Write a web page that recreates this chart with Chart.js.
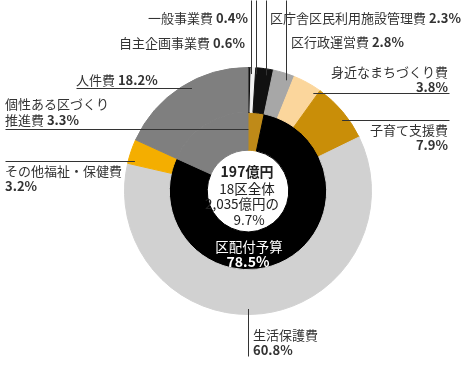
<!DOCTYPE html>
<html>
<head>
<meta charset="utf-8">
<script src="https://cdn.jsdelivr.net/npm/chart.js@4"></script>
<style>
  html, body { margin: 0; padding: 0; background: #fff; }
  #budgetChart { display: block; }
</style>
</head>
<body>
<canvas id="budgetChart" width="465" height="369"></canvas>
<script>
// outer ring: spending items
var outerLabels = ["一般事業費", "自主企画事業費", "区庁舎区民利用施設管理費", "区行政運営費",
  "身近なまちづくり費", "子育て支援費", "生活保護費", "その他福祉・保健費", "人件費"];
var outerValues = [0.4, 0.6, 2.3, 2.8, 3.8, 7.9, 60.8, 3.2, 18.2];
var outerColors = ["#111111", "#f2f2f2", "#111111", "#a7a7a7", "#fbd69c", "#c98e08", "#d1d1d1", "#f4ae00", "#7f7f7f"];

// inner ring: budget sources
var innerLabels = ["個性ある区づくり推進費", "区配付予算", "人件費"];
var innerValues = [3.3, 78.5, 18.2];
var innerColors = ["#bf8a18", "#000000", "#7f7f7f"];

var centerText = ["197億円", "18区全体", "2,035億円の", "9.7%"];

var FONT = "'Noto Sans CJK JP', 'Noto Sans', sans-serif";
var TEXT = "#333333";

// where each label and its leader line sit
var labelLayout = [
  {ring: 0, i: 0, lines: ["一般事業費"], inline: true, align: "right", x: 248, y: 18, lead: "v", at: 251, from: 0},
  {ring: 0, i: 1, lines: ["自主企画事業費"], inline: true, align: "right", x: 245, y: 43, lead: "v", at: 256, from: 0},
  {ring: 0, i: 2, lines: ["区庁舎区民利用施設管理費"], inline: true, align: "left", x: 270, y: 18, lead: "v", at: 266, from: 0},
  {ring: 0, i: 3, lines: ["区行政運営費"], inline: true, align: "left", x: 291, y: 42, lead: "v", at: 286, from: 0},
  {ring: 0, i: 4, lines: ["身近なまちづくり費"], align: "right", x: 448, y: 72, lead: "h", at: 93, from: 449},
  {ring: 0, i: 5, lines: ["子育て支援費"], align: "right", x: 448, y: 130, lead: "h", at: 120, from: 449},
  {ring: 0, i: 6, lines: ["生活保護費"], align: "left", x: 253, y: 335, lead: "v", at: 248, from: 356},
  {ring: 0, i: 7, lines: ["その他福祉・保健費"], align: "left", x: 5, y: 171, lead: "h", at: 161, from: 5},
  {ring: 0, i: 8, lines: ["人件費"], inline: true, align: "left", x: 76, y: 80, lead: "h", at: 88, from: 76},
  {ring: 1, i: 0, lines: ["個性ある区づくり", "推進費"], inline: true, align: "left", x: 5, y: 104, lead: "h", at: 129, from: 5}
];

function pct(v) { return v.toFixed(1) + "%"; }

function drawMixed(ctx, name, value, align, x, y) {
  ctx.font = "13px " + FONT;
  var nameW = ctx.measureText(name).width;
  ctx.font = "bold 13px " + FONT;
  var valW = ctx.measureText(value).width;
  var start = align === "right" ? x - nameW - valW : x;
  ctx.textAlign = "left";
  ctx.font = "13px " + FONT;
  ctx.fillText(name, start, y);
  ctx.font = "bold 13px " + FONT;
  ctx.fillText(value, start + nameW, y);
}

var labelPlugin = {
  id: "labels",
  afterDraw: function(chart) {
    var ctx = chart.ctx;
    ctx.save();
    ctx.textBaseline = "middle";
    labelLayout.forEach(function(l) {
      var arc = chart.getDatasetMeta(l.ring).data[l.i];
      var cx = arc.x, cy = arc.y;
      var r = l.ring === 0 ? arc.outerRadius - 6 : (arc.innerRadius + arc.outerRadius) / 2;
      var x1, y1, x2, y2;
      if (l.lead === "v") {
        var dx = l.at - cx;
        var dy = Math.sqrt(Math.max(r * r - dx * dx, 0));
        x1 = x2 = l.at; y1 = l.from;
        y2 = l.from < cy ? cy - dy : cy + dy;
      } else {
        var ddy = l.at - cy;
        var ddx = Math.sqrt(Math.max(r * r - ddy * ddy, 0));
        y1 = y2 = l.at; x1 = l.from;
        x2 = l.from < cx ? cx - ddx : cx + ddx;
      }
      ctx.strokeStyle = "#333";
      ctx.lineWidth = 1;
      ctx.beginPath();
      ctx.moveTo(x1 + 0.5, y1 + 0.5);
      ctx.lineTo(x2 + 0.5, y2 + 0.5);
      ctx.stroke();

      var value = pct(chart.data.datasets[l.ring].data[l.i]);
      ctx.fillStyle = TEXT;
      var n = l.lines.length;
      for (var k = 0; k < n; k++) {
        var yy = l.y + k * 16;
        if (k === n - 1 && l.inline) {
          drawMixed(ctx, l.lines[k] + " ", value, l.align, l.x, yy);
        } else {
          ctx.font = "13px " + FONT;
          ctx.textAlign = l.align;
          ctx.fillText(l.lines[k], l.x, yy);
        }
      }
      if (!l.inline) {
        ctx.font = "bold 13px " + FONT;
        ctx.textAlign = l.align;
        ctx.fillText(value, l.x, l.y + n * 15);
      }
    });

    // centre text
    var a = chart.getDatasetMeta(1).data[1];
    ctx.textAlign = "center";
    ctx.fillStyle = "#222";
    ctx.font = "bold 14px " + FONT;
    ctx.fillText(centerText[0], a.x - 1, 172);
    ctx.font = "13.5px " + FONT;
    ctx.fillText(centerText[1], a.x - 1, 189);
    ctx.fillText(centerText[2], a.x - 6, 204);
    ctx.fillText(centerText[3], a.x + 1, 220);

    // inner ring main label in white
    ctx.fillStyle = "#ffffff";
    ctx.font = "13.5px " + FONT;
    ctx.fillText(innerLabels[1], a.x + 1, 247);
    ctx.font = "bold 14px " + FONT;
    ctx.fillText(pct(innerValues[1]), a.x, 262);
    ctx.restore();
  }
};

var ctx = document.getElementById("budgetChart").getContext("2d");

var myChart = new Chart(ctx, {
  type: "doughnut",
  data: {
    labels: outerLabels,
    datasets: [{
        label: "内訳",
        data: outerValues,
        backgroundColor: outerColors,
        borderColor: outerColors,
        borderWidth: 1,
        weight: 45
      }, {
        label: "財源",
        data: innerValues,
        backgroundColor: innerColors,
        borderColor: innerColors,
        borderWidth: 1,
        weight: 38
      }
    ]
  },
  options: {
    responsive: false,
    animation: false,
    cutout: "33%",
    layout: {
      padding: {top: 67, bottom: 54, left: 124, right: 93}
    },
    plugins: {
      legend: { display: false },
      tooltip: { enabled: false }
    }
  },
  plugins: [labelPlugin]
});
</script>
</body>
</html>
